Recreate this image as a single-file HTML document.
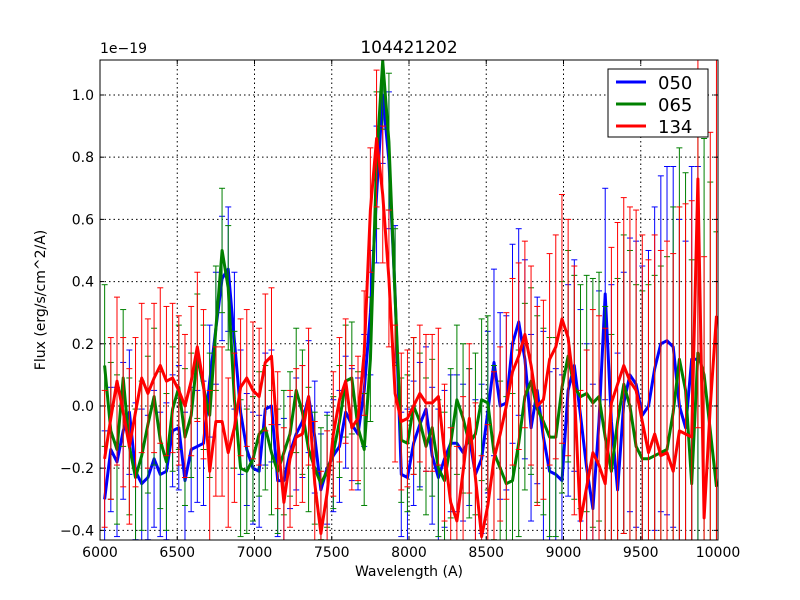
<!DOCTYPE html>
<html><head><meta charset="utf-8"><style>
html,body{margin:0;padding:0;background:#fff;width:800px;height:600px;overflow:hidden;}
svg{display:block;font-family:"DejaVu Sans","Liberation Sans",sans-serif;}
</style></head><body>
<svg id="chart" width="800" height="600" viewBox="0 0 800 600" xmlns="http://www.w3.org/2000/svg">
<rect x="0" y="0" width="800" height="600" fill="#fff"/>
<text x="409" y="53" text-anchor="middle" font-size="17">104421202</text>
<text x="100" y="53" font-size="14">1e−19</text>
<text x="409" y="576" text-anchor="middle" font-size="14">Wavelength (A)</text>
<text transform="translate(45,300) rotate(-90)" text-anchor="middle" font-size="14">Flux (erg/s/cm^2/A)</text>
<defs><clipPath id="plotclip"><rect x="100" y="60" width="618" height="480"/></clipPath></defs>
<g id="grid"></g>
<g id="series" clip-path="url(#plotclip)"></g>
<g id="axes"></g>
<rect x="100" y="60" width="618" height="480" fill="none" stroke="#000" stroke-width="1"/>
<g>
<rect x="608" y="69" width="100" height="68" fill="#fff" stroke="#000" stroke-width="1"/>
<line x1="616" y1="82" x2="646" y2="82" stroke="#0000ff" stroke-width="3"/>
<text x="658" y="89" font-size="18">050</text>
<line x1="616" y1="104" x2="646" y2="104" stroke="#008000" stroke-width="3"/>
<text x="658" y="111" font-size="18">065</text>
<line x1="616" y1="126" x2="646" y2="126" stroke="#ff0000" stroke-width="3"/>
<text x="658" y="133" font-size="18">134</text>
</g>
</svg>
<script>
const wlStart = 6030;
const wlStep = 40;
const xTicks = [6000,6500,7000,7500,8000,8500,9000,9500,10000];
const yTicks = [-0.4,-0.2,0.0,0.2,0.4,0.6,0.8,1.0];
const yTickLabels = ["−0.4","−0.2","0.0","0.2","0.4","0.6","0.8","1.0"];
const seriesNames = ["050","065","134"];
const seriesColors = ["#0000ff","#008000","#ff0000"];
const flux050 = [-0.30,-0.14,-0.18,-0.08,-0.02,-0.21,-0.25,-0.23,-0.17,-0.22,-0.21,-0.08,-0.07,-0.24,-0.14,-0.13,-0.12,0.08,0.25,0.41,0.44,0.21,-0.02,-0.14,-0.20,-0.21,-0.01,0.0,-0.24,-0.24,-0.15,-0.09,-0.05,0.03,-0.10,-0.27,-0.20,-0.16,-0.13,-0.02,-0.06,-0.09,0.05,0.30,0.68,1.0,0.79,0.36,-0.22,-0.23,-0.12,-0.06,-0.01,-0.16,-0.23,-0.17,-0.12,-0.12,-0.15,-0.10,-0.22,-0.17,-0.02,0.14,0.0,0.01,0.20,0.27,0.15,-0.07,0.05,-0.10,-0.21,-0.22,-0.24,0.05,0.13,-0.03,-0.20,-0.33,-0.05,0.36,-0.05,-0.27,0.01,0.10,0.07,-0.03,0.0,0.12,0.20,0.21,0.19,0.0,-0.07,0.15,0.15];
const flux065 = [0.13,-0.08,-0.14,0.09,-0.13,-0.23,-0.16,-0.06,0.03,-0.11,-0.18,-0.01,0.06,-0.10,-0.03,0.16,0.06,-0.03,0.25,0.50,0.38,0.02,-0.20,-0.21,-0.17,-0.09,-0.07,-0.15,-0.21,-0.15,-0.09,0.05,-0.02,-0.14,-0.20,-0.25,-0.21,-0.15,-0.05,0.08,0.09,-0.07,-0.14,0.15,0.79,1.11,0.85,0.35,-0.11,-0.12,0.0,-0.05,-0.13,-0.07,-0.20,-0.24,-0.12,0.02,-0.04,-0.12,-0.09,0.02,0.01,-0.15,-0.20,-0.25,-0.24,-0.12,0.03,0.08,-0.01,-0.05,-0.10,-0.10,0.06,0.16,0.06,0.03,0.04,0.01,0.03,-0.10,-0.21,-0.05,0.07,0.0,-0.13,-0.17,-0.17,-0.16,-0.15,-0.14,-0.02,0.15,0.05,-0.25,0.17,0.10,-0.08,-0.26];
const flux134 = [-0.17,-0.04,0.08,-0.02,-0.13,-0.02,0.09,0.04,0.09,0.13,0.08,0.09,0.05,0.0,0.08,0.19,0.07,-0.21,-0.05,-0.05,-0.15,-0.07,0.06,0.09,0.05,0.03,0.14,0.16,-0.11,-0.31,-0.17,-0.10,-0.09,0.03,-0.25,-0.41,-0.28,-0.09,0.02,0.08,-0.07,-0.04,0.17,0.63,0.86,0.68,0.41,0.04,-0.05,-0.04,0.0,0.04,0.01,0.01,0.03,-0.15,-0.31,-0.37,-0.21,-0.04,-0.23,-0.42,-0.32,-0.17,-0.09,0.0,0.11,0.16,0.23,0.13,0.0,0.02,0.15,0.19,0.28,0.22,0.05,-0.37,-0.26,-0.15,-0.19,-0.25,0.01,0.07,0.13,0.08,0.05,-0.05,-0.15,-0.09,-0.16,-0.15,-0.21,-0.08,-0.09,-0.10,0.73,-0.36,0.0,0.29];
const err050 = [0.22,0.20,0.24,0.22,0.20,0.22,0.24,0.20,0.22,0.20,0.22,0.18,0.20,0.22,0.20,0.18,0.20,0.18,0.18,0.20,0.20,0.22,0.20,0.18,0.18,0.18,0.18,0.18,0.18,0.20,0.18,0.18,0.18,0.18,0.18,0.18,0.18,0.18,0.18,0.18,0.18,0.18,0.18,0.20,0.22,0.22,0.22,0.22,0.20,0.22,0.20,0.20,0.20,0.22,0.22,0.22,0.22,0.22,0.22,0.22,0.24,0.24,0.26,0.30,0.30,0.28,0.32,0.30,0.32,0.30,0.30,0.34,0.32,0.34,0.34,0.34,0.34,0.34,0.40,0.40,0.42,0.34,0.44,0.44,0.42,0.44,0.46,0.48,0.50,0.52,0.54,0.56,0.58,0.60,0.60,0.62,0.62];
const err065 = [0.26,0.22,0.24,0.22,0.22,0.22,0.24,0.22,0.22,0.22,0.22,0.20,0.20,0.22,0.20,0.20,0.20,0.20,0.20,0.20,0.20,0.22,0.22,0.20,0.20,0.20,0.20,0.20,0.20,0.20,0.20,0.20,0.20,0.20,0.18,0.18,0.18,0.18,0.18,0.18,0.18,0.18,0.18,0.20,0.22,0.22,0.22,0.22,0.20,0.22,0.22,0.22,0.22,0.22,0.22,0.22,0.24,0.24,0.24,0.24,0.26,0.26,0.28,0.28,0.28,0.28,0.28,0.30,0.30,0.30,0.30,0.30,0.32,0.32,0.34,0.34,0.36,0.36,0.38,0.40,0.40,0.42,0.44,0.46,0.48,0.50,0.52,0.54,0.56,0.58,0.60,0.62,0.66,0.68,0.70,0.72,0.74,0.76,0.80,0.82];
const err134 = [0.22,0.26,0.27,0.24,0.25,0.24,0.24,0.24,0.24,0.25,0.24,0.24,0.24,0.23,0.24,0.24,0.24,0.26,0.24,0.24,0.24,0.24,0.22,0.22,0.22,0.22,0.22,0.22,0.22,0.24,0.22,0.22,0.22,0.22,0.20,0.20,0.20,0.20,0.20,0.20,0.20,0.20,0.20,0.20,0.22,0.22,0.22,0.22,0.22,0.22,0.22,0.22,0.22,0.22,0.22,0.22,0.24,0.24,0.24,0.24,0.24,0.26,0.26,0.28,0.28,0.30,0.30,0.30,0.30,0.32,0.32,0.32,0.34,0.36,0.40,0.38,0.40,0.42,0.44,0.46,0.48,0.50,0.50,0.52,0.54,0.56,0.58,0.60,0.62,0.64,0.66,0.68,0.70,0.72,0.74,0.76,0.80,0.84,0.88,0.90];
const seriesFlux = [flux050, flux065, flux134];
const seriesErr = [err050, err065, err134];

const X0=100, X1=718, Y0=540, Y1=60;
const xMin=6000, xMax=10000, yMin=-0.431, yMax=1.1125;
function xs(v){return X0+(v-xMin)/(xMax-xMin)*(X1-X0);}
function ys(v){return Y0-(v-yMin)/(yMax-yMin)*(Y0-Y1);}
function clampY(y){return Math.max(Y1-2,Math.min(Y0+2,y));}
const NS="http://www.w3.org/2000/svg";
function mk(tag,attrs,parent){const e=document.createElementNS(NS,tag);for(const k in attrs)e.setAttribute(k,attrs[k]);parent.appendChild(e);return e;}

const grid=document.getElementById('grid');
const axes=document.getElementById('axes');
xTicks.forEach((t,i)=>{
  const x=xs(t);
  if(i>0&&i<xTicks.length-1){
    const g=mk('line',{x1:x,y1:Y1,x2:x,y2:Y0,stroke:'#000','stroke-width':1,'stroke-dasharray':'1.5,3'},grid);
    
    
  }
  const tk=mk('line',{x1:x,y1:Y0,x2:x,y2:Y0-4,stroke:'#000'},axes);
  
  
  const tk2=mk('line',{x1:x,y1:Y1,x2:x,y2:Y1+4,stroke:'#000'},axes);
  
  
  const lb=mk('text',{x:x,y:Y0+17,'text-anchor':'middle','font-size':14},axes);
  lb.textContent=String(t);
  
  
});
yTicks.forEach((t,i)=>{
  const y=ys(t);
  const g=mk('line',{x1:X0,y1:y,x2:X1,y2:y,stroke:'#000','stroke-width':1,'stroke-dasharray':'1.5,3'},grid);
  
  
  const tk=mk('line',{x1:X0,y1:y,x2:X0+4,y2:y,stroke:'#000'},axes);
  
  
  const tk2=mk('line',{x1:X1,y1:y,x2:X1-4,y2:y,stroke:'#000'},axes);
  
  
  const lb=mk('text',{x:X0-6,y:y+5,'text-anchor':'end','font-size':14},axes);
  lb.textContent=yTickLabels[i];
  
  
});

const sg=document.getElementById('series');
seriesFlux.forEach((flux,s)=>{
  const col=seriesColors[s];
  const g=mk('g',{},sg);
  
  
  const pts=[];
  flux.forEach((v,i)=>{
    const w=wlStart+wlStep*i;
    const x=xs(w), e=seriesErr[s][i];
    const yaRaw=ys(v+e), ybRaw=ys(v-e);
    const ya=clampY(yaRaw), yb=clampY(ybRaw);
    const bar=mk('line',{x1:x,y1:ya,x2:x,y2:yb,stroke:col,'stroke-width':1},g);
    
    
    if(yaRaw>=Y1){
      const c1=mk('line',{x1:x-3,y1:ya,x2:x+3,y2:ya,stroke:col,'stroke-width':1},g);
      
      
    }
    if(ybRaw<=Y0){
      const c2=mk('line',{x1:x-3,y1:yb,x2:x+3,y2:yb,stroke:col,'stroke-width':1},g);
      
      
    }
    pts.push(x.toFixed(1)+','+clampY(ys(v)).toFixed(1));
  });
  const pl=mk('polyline',{points:pts.join(' '),fill:'none',stroke:col,'stroke-width':3,'stroke-linejoin':'round'},g);
  
  
});
</script>
</body></html>
